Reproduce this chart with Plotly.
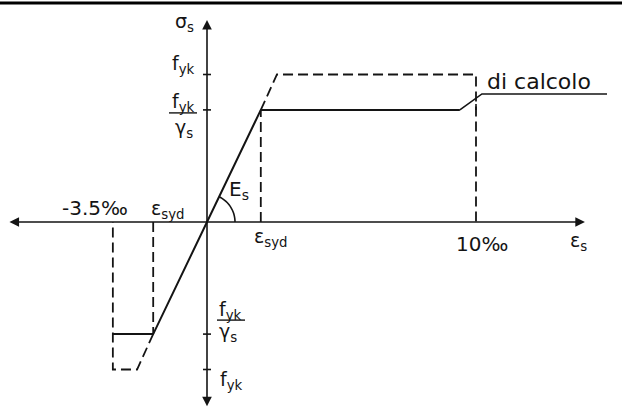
import numpy as np
import plotly.graph_objects as go

# diagramma sigma-epsilon dell'acciaio (fyk = 1)
fyk = 1.0
fyd = 0.76          # fyk / gamma_s
eps_syd = 2.0       # per mille
eps_yk = 2.6
eps_su = 10.0
eps_cu = -3.5

# curva di calcolo (linea continua)
calc_eps = [eps_cu, -eps_syd, 0.0, eps_syd, 9.4]
calc_sig = [-fyd, -fyd, 0.0, fyd, fyd]
# richiamo "di calcolo"
lead_eps = [9.4, 10.22, 14.87]
lead_sig = [fyd, 0.868, 0.868]
triangle_eps = [10.0, 10.0]
triangle_sig = [fyd, 0.80]

# curva caratteristica (tratteggiata)
char_pos_eps = [eps_syd, eps_yk, eps_su, eps_su]
char_pos_sig = [fyd, fyk, fyk, 0.0]
char_neg_eps = [-eps_syd, -eps_yk, eps_cu, eps_cu]
char_neg_sig = [-fyd, -fyk, -fyk, 0.0]
guide_eps = [[eps_syd, eps_syd], [-eps_syd, -eps_syd]]
guide_sig = [[0.0, fyd], [0.0, -fyd]]

W, H = 622, 412
PX, PY = 26.9, 147.5
x0px, y0px = 207, 222
xr = [-x0px / PX, (W - x0px) / PX]
yr = [-(H - y0px) / PY, y0px / PY]

ink = "#141414"
FONT = "DejaVu Sans"
dash = "10px,5px"

fig = go.Figure()
fig.add_trace(go.Scatter(x=calc_eps, y=calc_sig, mode="lines",
                         line=dict(color=ink, width=2)))
fig.add_trace(go.Scatter(x=lead_eps, y=lead_sig, mode="lines",
                         line=dict(color=ink, width=1.6)))
fig.add_trace(go.Scatter(x=triangle_eps, y=triangle_sig, mode="lines",
                         line=dict(color=ink, width=1.6)))
for xs, ys in [(char_pos_eps, char_pos_sig), (char_neg_eps, char_neg_sig)] + list(zip(guide_eps, guide_sig)):
    fig.add_trace(go.Scatter(x=xs, y=ys, mode="lines",
                             line=dict(color=ink, width=1.8, dash=dash)))

# assi con frecce
ann = []
ann.append(dict(x=14.05, y=0, ax=-7.40, ay=0, xref="x", yref="y", axref="x", ayref="y",
                text="", showarrow=True, arrowhead=2, arrowside="end+start",
                arrowsize=1.2, arrowwidth=1.6, arrowcolor=ink, standoff=0, startstandoff=0))
ann.append(dict(x=0, y=1.37, ax=0, ay=-1.26, xref="x", yref="y", axref="x", ayref="y",
                text="", showarrow=True, arrowhead=2, arrowside="end+start",
                arrowsize=1.2, arrowwidth=1.6, arrowcolor=ink, standoff=0, startstandoff=0))

shapes = [dict(type="line", xref="paper", yref="paper", x0=0, x1=1,
               y0=1 - 3 / H, y1=1 - 3 / H, line=dict(color="#000", width=3))]
# tacche sull'asse delle tensioni
for s in [fyk, fyd, -fyd, -fyk]:
    shapes.append(dict(type="line", xref="x", yref="y", xsizemode="pixel", xanchor=0,
                       x0=-4, x1=4, y0=s, y1=s, line=dict(color=ink, width=1.6)))
# linee di frazione fyk/gamma_s
shapes.append(dict(type="line", xref="x", yref="y", xsizemode="pixel", ysizemode="pixel",
                   xanchor=0, yanchor=fyd, x0=-38, x1=-10, y0=-3, y1=-3,
                   line=dict(color=ink, width=1.4)))
shapes.append(dict(type="line", xref="x", yref="y", xsizemode="pixel", ysizemode="pixel",
                   xanchor=0, yanchor=-fyd, x0=10, x1=38, y0=14, y1=14,
                   line=dict(color=ink, width=1.4)))
# arco dell'angolo E_s
theta = np.arctan2(fyd * PY, eps_syd * PX)
t = np.linspace(0, theta, 20)
r = 28
path = "M " + " L ".join(f"{r*np.cos(a):.2f},{r*np.sin(a):.2f}" for a in t)
shapes.append(dict(type="path", xref="x", yref="y", xsizemode="pixel", ysizemode="pixel",
                   xanchor=0, yanchor=0, path=path, line=dict(color=ink, width=1.6)))


def label(text, x, y, xs=0, ys=0, xa="center", size=19):
    ann.append(dict(x=x, y=y, xref="x", yref="y", text=text, showarrow=False,
                    xanchor=xa, yanchor="middle", xshift=xs, yshift=ys,
                    font=dict(family=FONT, size=size, color=ink)))


label("σ<sub>s</sub>", 0, 1.35, xs=-11, xa="right")
label("f<sub>yk</sub>", 0, fyk, xs=-10, ys=10, xa="right")
label("f<sub>yk</sub>", 0, fyd, xs=-10, ys=7, xa="right")
label("γ<sub>s</sub>", 0, fyd, xs=-12, ys=-19, xa="right")
label("f<sub>yk</sub>", 0, -fyd, xs=10, ys=24, xa="left")
label("γ<sub>s</sub>", 0, -fyd, xs=10, ys=2, xa="left")
label("f<sub>yk</sub>", 0, -fyk, xs=11, ys=-11, xa="left")
label("-3.5‰", eps_cu, 0, xs=-18, ys=14, size=20)
label("ε<sub>syd</sub>", -eps_syd, 0, xs=-4, ys=13, xa="left")
label("ε<sub>syd</sub>", eps_syd, 0, xs=-9, ys=-15, xa="left")
label("10‰", eps_su, 0, xs=6, ys=-22, size=20)
label("ε<sub>s</sub>", 13.8, 0, ys=-19)
label("E<sub>s</sub>", 0, 0, xs=20, ys=32, xa="left", size=20)
label("di calcolo", 10.22, 0.868, xs=3, ys=12, xa="left", size=22)

fig.update_layout(
    width=W, height=H, margin=dict(l=0, r=0, t=0, b=0),
    paper_bgcolor="white", plot_bgcolor="white", showlegend=False,
    xaxis=dict(range=xr, visible=False, fixedrange=True),
    yaxis=dict(range=yr, visible=False, fixedrange=True),
    shapes=shapes, annotations=ann,
)
fig.write_html("out.html", config={"displayModeBar": False},
               post_script="document.body.style.margin='0px';")
